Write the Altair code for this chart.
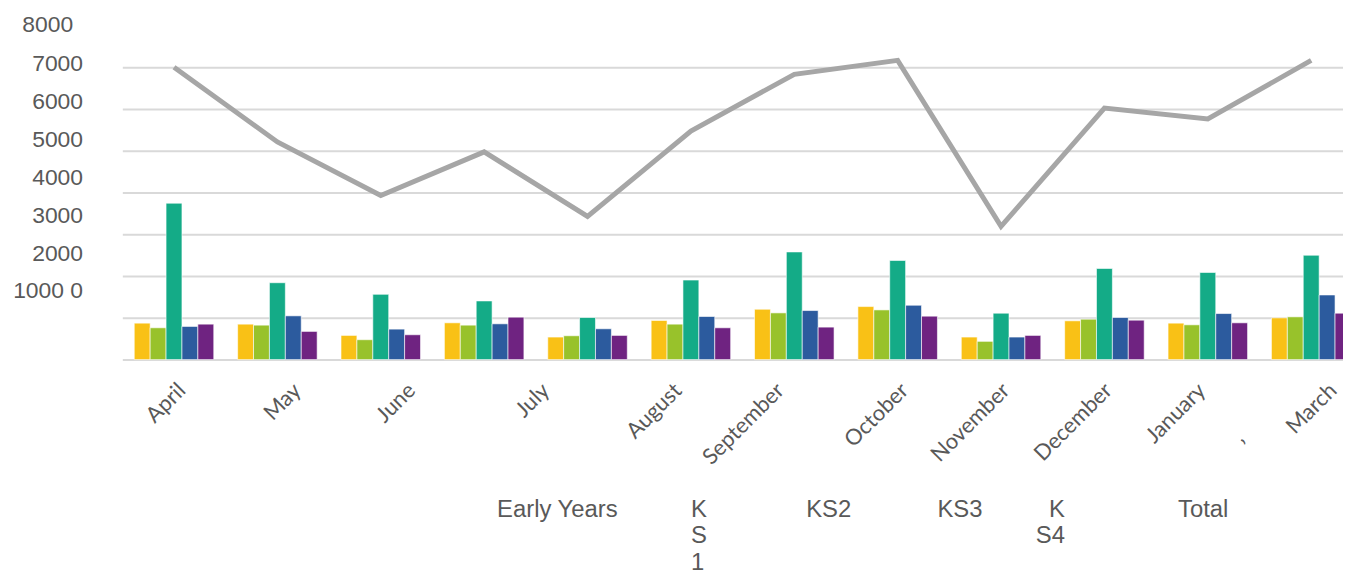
import altair as alt
import pandas as pd

months = ["April", "May", "June", "July", "August", "September", "October",
          "November", "December", "January", "February", "March"]
series = ["Early Years", "KS1", "KS2", "KS3", "KS4"]
early_years = [873, 849, 579, 881, 540, 937, 1206, 1270, 540, 929, 873, 1000]
ks1 = [762, 825, 476, 825, 571, 849, 1119, 1190, 437, 968, 833, 1024]
ks2 = [3746, 1841, 1563, 1405, 1008, 1905, 2579, 2373, 1111, 2183, 2087, 2500]
ks3 = [794, 1048, 730, 857, 738, 1032, 1175, 1302, 540, 1008, 1103, 1548]
ks4 = [849, 675, 595, 1016, 579, 762, 778, 1040, 579, 944, 881, 1111]
total = [7000, 5214, 3929, 4976, 3429, 5476, 6833, 7167, 3190, 6024, 5762, 7167]
y_ticks = [0, 1000, 2000, 3000, 4000, 5000, 6000, 7000, 8000]

colors = ["#F9C116", "#98C22B", "#14AB87", "#2C5B9E", "#6F2381", "#A6A6A6"]

rows = []
for name, vals in zip(series, [early_years, ks1, ks2, ks3, ks4]):
    for m, v in zip(months, vals):
        rows.append({"Month": m, "Series": name, "Value": v})
bar_df = pd.DataFrame(rows)
line_df = pd.DataFrame({"Month": months, "Total": total, "Series": ["Total"] * len(months)})

# styling: label drift of the original rendering
x_shift = {"April": 1, "May": 13, "June": 24, "July": 55, "August": 84,
           "September": 83, "October": 104, "November": 102, "December": 101,
           "January": 91, "February": 35, "March": 15}
y_shift = {8000: -1, 7000: -4, 6000: -8, 5000: -11, 4000: -15, 3000: -19,
           2000: -23, 1000: -27}

x_off_cond = [{"test": f"datum.value === '{k}'", "value": v} for k, v in x_shift.items()]
y_off_cond = [{"test": f"datum.value === {k}", "value": v} for k, v in y_shift.items()]

NB = "\u00a0"
ZW = "\u200b"
legend_expr = (
    f"datum.label === 'Early Years' ? ['Early Years{NB*3}{ZW}', '', ''] : "
    f"datum.label === 'KS1' ? ['K{NB*7}{ZW}', 'S', '1'] : "
    f"datum.label === 'KS2' ? ['KS2{NB*5}{ZW}', '', ''] : "
    f"datum.label === 'KS3' ? ['KS3', '', ''] : "
    f"datum.label === 'KS4' ? ['{ZW}{NB*2}K', 'S4{NB*9}{ZW}', ''] : [datum.label, '', '']"
)

x_enc = alt.X(
    "Month:N", sort=months, title=None,
    scale=alt.Scale(domain=months, range=[0, 1248], paddingInner=0.2308, paddingOuter=0.1154),
    axis=alt.Axis(
        domain=False, ticks=False, grid=False, labelAngle=-45,
        labelAlign="right", labelBaseline="top",
        labelPadding={"condition": {"test": "datum.value === 'February'", "value": 78}, "value": 20},
        labelFont="Lato", labelFontSize=22, labelColor="#595959",
        labelOverlap=False, labelLimit=400,
        labelExpr="datum.value === 'February' ? '\u2019' : datum.label",
        labelOffset={"condition": x_off_cond, "value": 0},
    ),
)

color_enc = alt.Color(
    "Series:N", title=None,
    scale=alt.Scale(domain=series + ["Total"], range=colors),
    legend=alt.Legend(
        orient="none", legendX=353, legendY=463, direction="horizontal", columns=6,
        symbolSize=0, symbolOpacity=0, symbolStrokeWidth=0, labelOffset=0,
        columnPadding=29, labelFont="Liberation Sans", labelFontSize=24,
        labelColor="#595959", labelBaseline="top", labelLimit=600,
        labelExpr=legend_expr, padding=0,
    ),
)

y_axis = alt.Axis(
    values=y_ticks, format="d", domain=False, ticks=False, tickSize=0,
    grid=True, gridColor="#D9D9D9", gridWidth=2,
    gridOpacity={"condition": {"test": "datum.value === 8000", "value": 0}, "value": 1},
    labelFont="Liberation Sans", labelFontSize=23, labelColor="#595959",
    labelPadding={"condition": {"test": "datum.value === 8000", "value": 50}, "value": 40},
    labelOffset={"condition": y_off_cond, "value": 0},
    labelExpr="datum.value === 1000 ? '1000 0' : datum.value === 0 ? '' : datum.label",
    labelOverlap=False, labelFlush=False,
)

bars = alt.Chart(bar_df).mark_bar(stroke="white", strokeWidth=1, strokeOpacity=0.6).encode(
    x=x_enc,
    xOffset=alt.XOffset("Series:N", sort=series,
                        scale=alt.Scale(domain=series, paddingInner=0, paddingOuter=0)),
    y=alt.Y("Value:Q", title=None, scale=alt.Scale(domain=[0, 8000], nice=False), axis=y_axis),
    color=color_enc,
)

line = alt.Chart(line_df).mark_line(strokeWidth=5, strokeCap="butt").encode(
    x=alt.X("Month:N", sort=months),
    y=alt.Y("Total:Q"),
    color=alt.Color("Series:N"),
)

chart = alt.layer(bars, line).properties(
    width=1228, height=336,
    padding={"left": 115, "top": 16, "right": 0, "bottom": 216},
    autosize=alt.AutoSizeParams(type="none"),
).configure(
    style={"guide-label": {"lineHeight": 27}}
).configure_view(stroke=None)

chart.save("out.html", embed_options={"renderer": "svg", "actions": False})
